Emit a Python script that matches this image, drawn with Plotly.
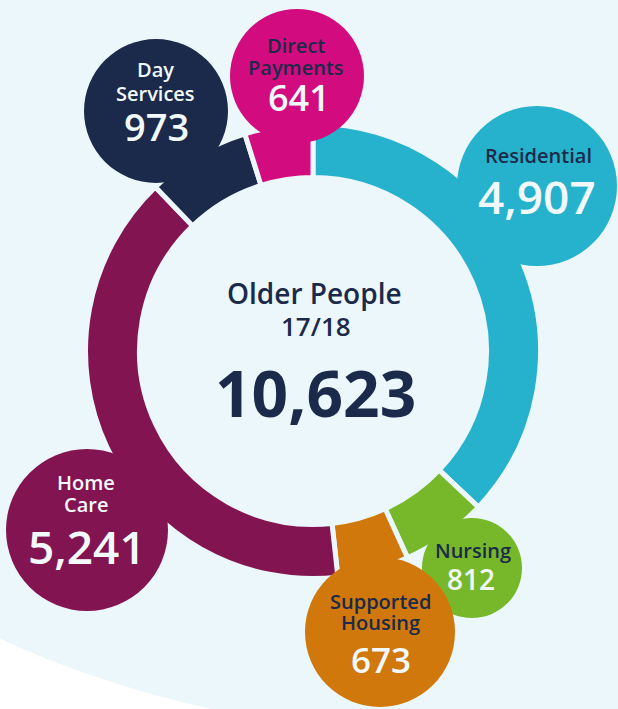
import plotly.graph_objects as go

# ---------------- data ----------------
categories = ["Residential", "Nursing", "Supported Housing", "Home Care", "Day Services", "Direct Payments"]
values = [4907, 812, 673, 5241, 973, 641]
value_labels = ["4,907", "812", "673", "5,241", "973", "641"]
label_lines = [["Residential"], ["Nursing"], ["Supported", "Housing"], ["Home", "Care"], ["Day", "Services"], ["Direct", "Payments"]]
center_title = "Older People"
center_period = "17/18"
center_total = "10,623"

# ---------------- styles / layout ----------------
W, H = 618, 709
BG = "#ecf7fc"
NAVY = "#1b2a4a"
WHITE_TXT = "#f2f9fc"
colors = ["#26b2cc", "#77b82a", "#d0780b", "#831452", "#1b2a4a", "#d20c7e"]
label_colors = [NAVY, NAVY, NAVY, WHITE_TXT, WHITE_TXT, NAVY]

CX, CY = 313, 351          # ring centre (px)
R_OUT, R_IN = 225, 176     # visible ring radii (px)
GAP = 5                    # gap between slices (px)
R_DOM = R_OUT + GAP / 2
HOLE = (R_IN - GAP / 2) / R_DOM

# bubble (cx, cy, r) and text placement per category
bubbles = [(537, 186, 80), (472, 568, 50), (380, 632, 75), (87, 530, 81), (156, 111, 72), (297, 76, 67)]
label_size = [20, 20, 20, 20, 20, 20]
value_size = [46, 28, 35, 46, 38, 36]
label_y = [[155], [550], [601, 622], [482, 504], [69, 93], [45, 67]]
value_y = [196, 579, 659, 546, 126, 97]
label_x = [538, 473, 380, 86, 155, 296]
value_x = [537, 471, 381, 87, 156, 299]

FONT = "Open Sans"

fig = go.Figure()

fig.add_trace(go.Pie(
    labels=categories,
    values=values,
    sort=False,
    direction="clockwise",
    rotation=0,
    hole=HOLE,
    marker=dict(colors=colors, line=dict(color=BG, width=GAP)),
    textinfo="none",
    hoverinfo="label+value",
    showlegend=False,
    domain=dict(x=[(CX - R_DOM) / W, (CX + R_DOM) / W],
                y=[(H - CY - R_DOM) / H, (H - CY + R_DOM) / H]),
))

shapes = []
# white corner at bottom-left
shapes.append(dict(type="path", xref="x", yref="y", layer="below",
                   path="M -5,636 Q 95,684 225,712 L -5,712 Z",
                   fillcolor="white", line=dict(width=0)))
# bubbles (drawn in order so Supported Housing sits over Nursing)
order = [0, 3, 4, 5, 1, 2]
for i in order:
    bx, by, br = bubbles[i]
    shapes.append(dict(type="circle", xref="x", yref="y", layer="above",
                       x0=bx - br, x1=bx + br, y0=by - br, y1=by + br,
                       fillcolor=colors[i], line=dict(width=0)))

annotations = []
for i in range(len(categories)):
    for line, ly in zip(label_lines[i], label_y[i]):
        annotations.append(dict(x=label_x[i], y=ly, xref="x", yref="y", text=line, showarrow=False,
                                xanchor="center", yanchor="middle",
                                font=dict(family=FONT, size=label_size[i], color=label_colors[i], weight=600)))
    annotations.append(dict(x=value_x[i], y=value_y[i], xref="x", yref="y", text=value_labels[i],
                            showarrow=False, xanchor="center", yanchor="middle",
                            font=dict(family=FONT, size=value_size[i], color=WHITE_TXT, weight=600)))

annotations.append(dict(x=314, y=293, xref="x", yref="y", text=center_title, showarrow=False,
                        xanchor="center", yanchor="middle",
                        font=dict(family=FONT, size=28, color=NAVY, weight=600)))
annotations.append(dict(x=316, y=326, xref="x", yref="y", text=center_period, showarrow=False,
                        xanchor="center", yanchor="middle",
                        font=dict(family=FONT, size=26, color=NAVY, weight=600)))
annotations.append(dict(x=315, y=392, xref="x", yref="y", text=center_total, showarrow=False,
                        xanchor="center", yanchor="middle",
                        font=dict(family=FONT, size=64, color=NAVY, weight=700)))

fig.update_layout(
    width=W, height=H,
    margin=dict(l=0, r=0, t=0, b=0),
    paper_bgcolor=BG, plot_bgcolor=BG,
    xaxis=dict(range=[0, W], visible=False, fixedrange=True),
    yaxis=dict(range=[H, 0], visible=False, fixedrange=True),
    shapes=shapes,
    annotations=annotations,
    showlegend=False,
)

fig.write_html(
    "out.html",
    config=dict(displayModeBar=False),
    post_script="document.body.style.margin='0';document.body.style.padding='0';document.body.style.overflow='hidden';",
)
